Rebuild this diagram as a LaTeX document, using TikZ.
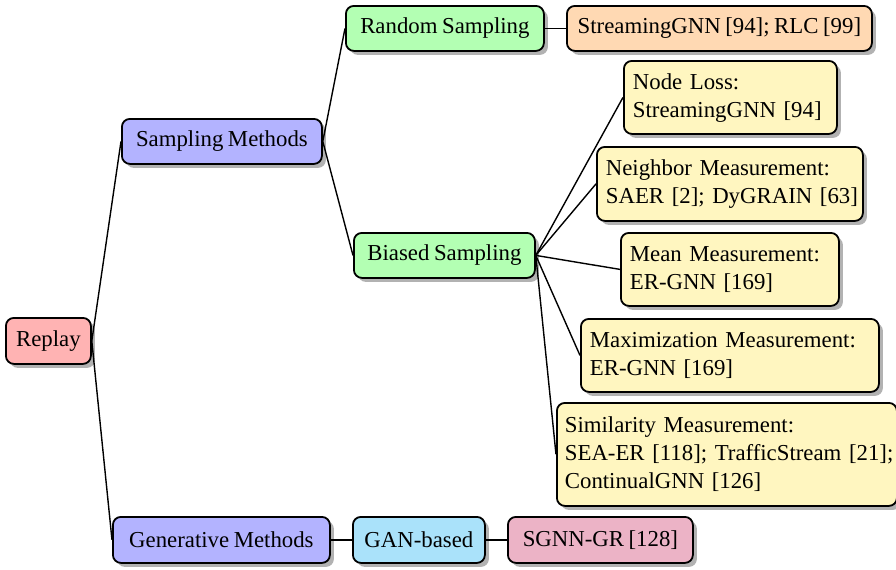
\documentclass[tikz,border=0pt]{standalone}
\usepackage{fontspec}
\setmainfont{Liberation Serif}[WordSpace=0.8]
\usetikzlibrary{shadows}
\definecolor{cReplay}{HTML}{FFB3B3}
\definecolor{cMethod}{HTML}{B3B3FF}
\definecolor{cSampling}{HTML}{B3FFB3}
\definecolor{cOrange}{HTML}{FFD9B3}
\definecolor{cYellow}{HTML}{FFF6C0}
\definecolor{cGan}{HTML}{AAE2FA}
\definecolor{cPink}{HTML}{ECB3C6}
\newcommand{\boxlines}[1]{\begin{tabular}{@{}l@{}}#1\end{tabular}}
\begin{document}
\begin{tikzpicture}[x=0.5pt,y=-0.5pt,
  box/.style={draw=black, line width=0.9pt, rounded corners=4pt, anchor=north west,
    font=\fontsize{11.4}{14}\selectfont, inner xsep=4.5pt, inner ysep=0pt,
    drop shadow={shadow xshift=2pt, shadow yshift=-2pt, opacity=0.3, fill=black}},
  multi/.style={box, align=left},
  link/.style={line width=0.7pt}]
\useasboundingbox (0,0) rectangle (896,569);

\node[box, fill=cReplay, minimum width=42.5pt, minimum height=23pt] (replay) at (5,317) {Replay};
\node[box, fill=cMethod, minimum width=100pt, minimum height=22.5pt] (sm) at (121,118) {Sampling Methods};
\node[box, fill=cMethod, minimum width=108.5pt, minimum height=23pt] (gm) at (112,516) {Generative Methods};
\node[box, fill=cSampling, minimum width=99pt, minimum height=22.5pt] (rs) at (345,5) {Random Sampling};
\node[box, fill=cOrange, minimum width=152.5pt, minimum height=22.5pt] (rsl) at (566,5) {StreamingGNN [94]; RLC [99]};
\node[box, fill=cSampling, minimum width=90.5pt, minimum height=22.5pt] (bs) at (353,232) {Biased Sampling};
\node[multi, fill=cYellow, text width=97.5pt, minimum height=36.5pt] (nl) at (623,60) {\boxlines{Node Loss:\\StreamingGNN [94]}};
\node[multi, fill=cYellow, text width=124pt, minimum height=37pt] (nm) at (596,146) {\boxlines{Neighbor Measurement:\\SAER [2]; DyGRAIN [63]}};
\node[multi, fill=cYellow, text width=100pt, minimum height=36.5pt] (mm) at (620,232) {\boxlines{Mean Measurement:\\ER-GNN [169]}};
\node[multi, fill=cYellow, text width=140pt, minimum height=36.5pt] (mx) at (580,318) {\boxlines{Maximization Measurement:\\ER-GNN [169]}};
\node[multi, fill=cYellow, text width=162pt, inner xsep=4pt, minimum height=51.5pt] (sim) at (556,402) {\boxlines{Similarity Measurement:\\SEA-ER [118]; TrafficStream [21];\\ContinualGNN [126]}};
\node[box, fill=cGan, minimum width=66pt, minimum height=23pt] (gan) at (352,516) {GAN-based};
\node[box, fill=cPink, minimum width=92.5pt, minimum height=23pt] (sg) at (507,516) {SGNN-GR [128]};

\draw[link] (replay.east) -- (sm.west);
\draw[link] (replay.east) -- (gm.west);
\draw[link] (sm.east) -- (rs.west);
\draw[link] (sm.east) -- (bs.west);
\draw[link] (rs.east) -- (rsl.west);
\draw[link] (bs.east) -- (nl.west);
\draw[link] (bs.east) -- (nm.west);
\draw[link] (bs.east) -- (mm.west);
\draw[link] (bs.east) -- (mx.west);
\draw[link] (bs.east) -- (sim.west);
\draw[link] (gm.east) -- (gan.west);
\draw[link] (gan.east) -- (sg.west);
\end{tikzpicture}
\end{document}
